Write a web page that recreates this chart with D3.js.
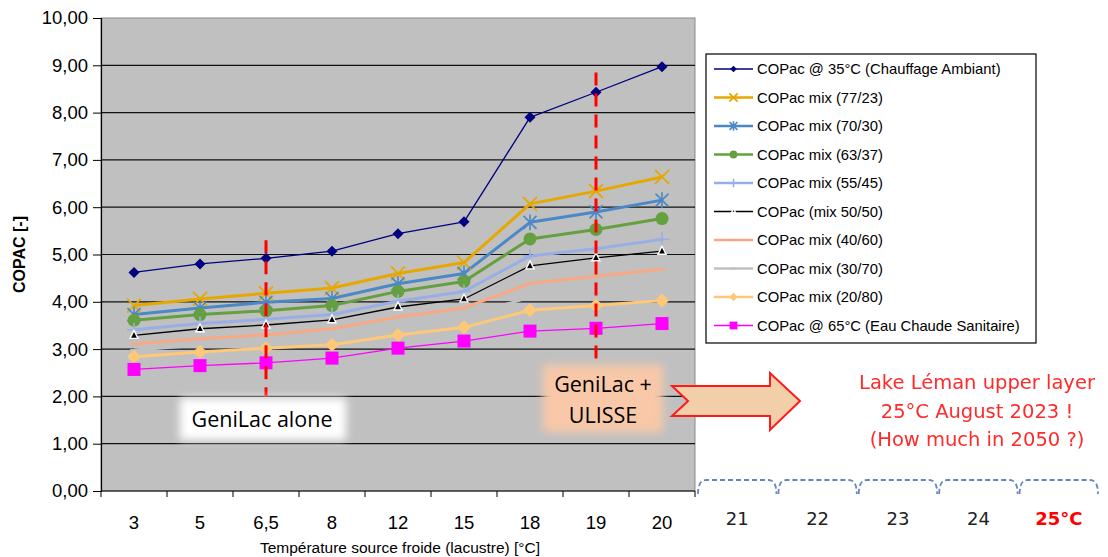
<!DOCTYPE html>
<html>
<head>
<meta charset="utf-8">
<script src="https://cdn.jsdelivr.net/npm/d3@7"></script>
<style>
  html, body { margin: 0; padding: 0; background: #ffffff; }
  svg { display: block; }
</style>
</head>
<body>
<svg id="chart" width="1108" height="557"></svg>
<script>
// Lake-water source temperature categories [°C]
const temperatures = ["3", "5", "6,5", "8", "12", "15", "18", "19", "20"];
const yTicks = [0, 1, 2, 3, 4, 5, 6, 7, 8, 9, 10];

// COPAC per mix of space heating / domestic hot water
const cop35 = [4.62, 4.80, 4.92, 5.07, 5.44, 5.69, 7.90, 8.43, 8.97];
const mix77_23 = [3.92, 4.06, 4.18, 4.29, 4.60, 4.83, 6.07, 6.34, 6.64];
const mix70_30 = [3.73, 3.87, 3.99, 4.07, 4.38, 4.60, 5.68, 5.90, 6.15];
const mix63_37 = [3.61, 3.73, 3.81, 3.92, 4.22, 4.43, 5.33, 5.53, 5.76];
const mix55_45 = [3.41, 3.54, 3.63, 3.73, 4.01, 4.22, 4.97, 5.12, 5.32];
const mix50_50 = [3.29, 3.43, 3.51, 3.62, 3.89, 4.06, 4.76, 4.93, 5.07];
const mix40_60 = [3.11, 3.22, 3.30, 3.43, 3.68, 3.87, 4.39, 4.54, 4.69];
const mix30_70 = [2.98, 3.08, 3.16, 3.26, 3.50, 3.68, 4.10, 4.22, 4.36];
const mix20_80 = [2.84, 2.94, 3.02, 3.09, 3.30, 3.46, 3.82, 3.92, 4.03];
const cop65 = [2.57, 2.65, 2.71, 2.81, 3.02, 3.17, 3.38, 3.44, 3.54];

const seriesNames = [
  "COPac @ 35°C (Chauffage Ambiant)",
  "COPac mix (77/23)",
  "COPac mix (70/30)",
  "COPac mix (63/37)",
  "COPac mix (55/45)",
  "COPac (mix 50/50)",
  "COPac mix (40/60)",
  "COPac mix (30/70)",
  "COPac mix (20/80)",
  "COPac @ 65°C (Eau Chaude Sanitaire)"
];
const seriesValues = [cop35, mix77_23, mix70_30, mix63_37, mix55_45, mix50_50, mix40_60, mix30_70, mix20_80, cop65];

// Future lake temperatures beyond the measured range
const futureTemps = ["21", "22", "23", "24", "25°C"];

// Visual style per series
const styles = [
  { color: "#000080", width: 1.3, marker: "diamond", size: 5.5 },
  { color: "#E6A800", width: 3, marker: "x", size: 7 },
  { color: "#4A88C6", width: 3, marker: "star", size: 6.5 },
  { color: "#64A040", width: 3, marker: "circle", size: 6.5 },
  { color: "#98AEE6", width: 3, marker: "plus", size: 7 },
  { color: "#000000", width: 1.3, marker: "triangle", size: 4 },
  { color: "#F8A884", width: 3, marker: "dash", size: 4 },
  { color: "#C0C0C0", width: 3, marker: "dash", size: 4 },
  { color: "#FFC878", width: 3, marker: "diamond", size: 7 },
  { color: "#FF00FF", width: 1.3, marker: "square", size: 6.5 }
];

const svg = d3.select("#chart");
const plot = { left: 101, right: 695, top: 18, bottom: 491 };

const x = d3.scaleBand().domain(temperatures).range([plot.left, plot.right]).paddingInner(0).paddingOuter(0);
const y = d3.scaleLinear().domain([0, 10]).range([plot.bottom, plot.top]);
const cx = d => x(d) + x.bandwidth() / 2;

const defs = svg.append("defs");
defs.append("filter").attr("id", "soft").attr("x", "-20%").attr("y", "-30%").attr("width", "140%").attr("height", "160%")
  .append("feGaussianBlur").attr("stdDeviation", 4);
defs.append("filter").attr("id", "textsoft")
  .append("feGaussianBlur").attr("stdDeviation", 0.35);

// Plot background
svg.append("rect")
  .attr("x", plot.left).attr("y", plot.top)
  .attr("width", plot.right - plot.left).attr("height", plot.bottom - plot.top)
  .attr("fill", "#C0C0C0").attr("stroke", "#8a8a8a").attr("stroke-width", 1);

// Horizontal gridlines
svg.append("g").selectAll("line").data(yTicks.filter(t => t > 0 && t < 10)).join("line")
  .attr("x1", plot.left).attr("x2", plot.right)
  .attr("y1", d => y(d)).attr("y2", d => y(d))
  .attr("stroke", "#111").attr("stroke-width", 1.2);

// Y axis
const yAxis = d3.axisLeft(y).tickValues(yTicks).tickSize(8).tickPadding(5)
  .tickFormat(d => d3.format(".2f")(d).replace(".", ","));
const gy = svg.append("g").attr("transform", `translate(${plot.left},0)`).call(yAxis);
gy.select(".domain").attr("stroke", "#000").attr("stroke-width", 1.2);
gy.selectAll(".tick line").attr("stroke", "#000");
gy.selectAll(".tick text").attr("font-family", "Liberation Sans, Arial, sans-serif").attr("font-size", 18.5).attr("fill", "#000");

// X axis with ticks on category boundaries
const gx = svg.append("g").attr("transform", `translate(0,${plot.bottom})`);
gx.append("line").attr("x1", plot.left).attr("x2", plot.right).attr("stroke", "#000").attr("stroke-width", 1.2);
const boundaries = temperatures.map(t => x(t)).concat([plot.right]);
gx.selectAll("line.tk").data(boundaries).join("line").attr("class", "tk")
  .attr("x1", d => d).attr("x2", d => d).attr("y1", 0).attr("y2", 6).attr("stroke", "#000");
gx.selectAll("text").data(temperatures).join("text")
  .attr("x", d => cx(d)).attr("y", 38)
  .attr("text-anchor", "middle")
  .attr("font-family", "Liberation Sans, Arial, sans-serif").attr("font-size", 18.5).attr("fill", "#000")
  .text(d => d);

// Axis titles
svg.append("text")
  .attr("transform", `translate(25,${(plot.top + plot.bottom) / 2}) rotate(-90)`)
  .attr("text-anchor", "middle")
  .attr("font-family", "Liberation Sans, Arial, sans-serif").attr("font-size", 16).attr("font-weight", "bold")
  .attr("fill", "#000").text("COPAC  [-]");
svg.append("text")
  .attr("x", 400).attr("y", 553)
  .attr("text-anchor", "middle")
  .attr("font-family", "Liberation Sans, Arial, sans-serif").attr("font-size", 15.5)
  .attr("fill", "#000").text("Température source froide (lacustre) [°C]");

// Marker drawing helper
function drawMarker(g, st, px, py, scale) {
  const s = st.size * scale;
  const c = st.color;
  switch (st.marker) {
    case "diamond":
      g.append("path").attr("d", `M${px},${py - s}L${px + s},${py}L${px},${py + s}L${px - s},${py}Z`).attr("fill", c);
      break;
    case "x":
      g.append("path").attr("d", `M${px - s},${py - s}L${px + s},${py + s}M${px - s},${py + s}L${px + s},${py - s}`)
        .attr("stroke", c).attr("stroke-width", 1.8).attr("fill", "none");
      break;
    case "star":
      g.append("path").attr("d", `M${px - s},${py - s}L${px + s},${py + s}M${px - s},${py + s}L${px + s},${py - s}M${px},${py - s * 1.2}L${px},${py + s * 1.2}`)
        .attr("stroke", c).attr("stroke-width", 1.6).attr("fill", "none");
      break;
    case "circle":
      g.append("circle").attr("cx", px).attr("cy", py).attr("r", s).attr("fill", c);
      break;
    case "plus":
      g.append("path").attr("d", `M${px - s},${py}L${px + s},${py}M${px},${py - s}L${px},${py + s}`)
        .attr("stroke", c).attr("stroke-width", 1.6).attr("fill", "none");
      break;
    case "triangle":
      g.append("path").attr("d", `M${px},${py - s - 1}L${px + s},${py + s - 1}L${px - s},${py + s - 1}Z`)
        .attr("fill", c).attr("stroke", "#fff").attr("stroke-width", 1.4);
      break;
    case "dash":
      g.append("path").attr("d", `M${px - s},${py}L${px + s},${py}`).attr("stroke", c).attr("stroke-width", 2);
      break;
    case "square":
      g.append("rect").attr("x", px - s).attr("y", py - s).attr("width", 2 * s).attr("height", 2 * s).attr("fill", c);
      break;
  }
}

// Series lines and markers
const line = d3.line().x((d, i) => cx(temperatures[i])).y(d => y(d));
const seriesG = svg.append("g");
seriesValues.forEach((vals, k) => {
  const st = styles[k];
  seriesG.append("path").datum(vals).attr("d", line)
    .attr("fill", "none").attr("stroke", st.color).attr("stroke-width", st.width).attr("stroke-linejoin", "round");
});
seriesValues.forEach((vals, k) => {
  const st = styles[k];
  const mg = seriesG.append("g");
  vals.forEach((v, i) => drawMarker(mg, st, cx(temperatures[i]), y(v), 1));
});

// Red dashed markers for the two operating scenarios (value range on the COPAC axis)
const scenarioLines = [
  { t: "6,5", top: 5.3, bottom: 2.0 },
  { t: "19", top: 8.85, bottom: 2.8 }
];
svg.append("g").selectAll("line").data(scenarioLines).join("line")
  .attr("x1", d => cx(d.t)).attr("x2", d => cx(d.t))
  .attr("y1", d => y(d.top)).attr("y2", d => y(d.bottom))
  .attr("stroke", "#FF0000").attr("stroke-width", 3).attr("stroke-dasharray", "13,8");

// Scenario labels
const lbl = svg.append("g").attr("font-family", "Open Sans, Lato, sans-serif").attr("font-size", 21.5).attr("fill", "#000")
  .attr("text-anchor", "middle");
lbl.append("rect").attr("x", 180).attr("y", 398).attr("width", 166).attr("height", 42)
  .attr("fill", "#ffffff").attr("filter", "url(#soft)");
lbl.append("text").attr("x", 262).attr("y", 427).text("GeniLac alone");

lbl.append("rect").attr("x", 543).attr("y", 365).attr("width", 120).attr("height", 67)
  .attr("fill", "#F8C8A8").attr("filter", "url(#soft)");
lbl.append("text").attr("x", 603).attr("y", 392).text("GeniLac +");
lbl.append("text").attr("x", 603).attr("y", 423).text("ULISSE");

// Notched arrow towards future temperatures
svg.append("path")
  .attr("d", "M672,386 L770,386 L770,373 L800,401 L770,430 L770,416 L672,416 L688,401 Z")
  .attr("fill", "#F2CFA8").attr("stroke", "#FF1A1A").attr("stroke-width", 2).attr("stroke-linejoin", "miter");

// Red commentary text
const note = svg.append("g").attr("font-family", "DejaVu Sans, sans-serif").attr("font-size", 19.5)
  .attr("fill", "#FF2A2A").attr("text-anchor", "middle").attr("filter", "url(#textsoft)");
["Lake Léman upper layer", "25°C August 2023 !", "(How much in 2050 ?)"].forEach((t, i) => {
  note.append("text").attr("x", 977).attr("y", 389 + i * 28.5).text(t);
});

// Future temperature scale with dashed braces
const futureX = d3.scaleBand().domain(futureTemps).range([697, 1099]);
const braces = svg.append("g").attr("fill", "none").attr("stroke", "#6A86BA").attr("stroke-width", 1.8)
  .attr("stroke-dasharray", "5,3");
futureTemps.forEach(t => {
  const x0 = futureX(t) + 1, x1 = futureX(t) + futureX.bandwidth() - 1;
  braces.append("path").attr("d",
    `M${x0},${494} Q${x0},${480} ${x0 + 8},${480} L${x1 - 8},${480} Q${x1},${480} ${x1},${494}`);
});
svg.append("g").selectAll("text").data(futureTemps).join("text")
  .attr("x", d => futureX(d) + futureX.bandwidth() / 2).attr("y", 525)
  .attr("text-anchor", "middle")
  .attr("font-family", "DejaVu Sans, sans-serif").attr("font-size", 18)
  .attr("font-weight", (d, i) => i === futureTemps.length - 1 ? "bold" : "normal")
  .attr("fill", (d, i) => i === futureTemps.length - 1 ? "#FF0000" : "#222")
  .text(d => d);

// Legend
const legend = svg.append("g");
legend.append("rect").attr("x", 706).attr("y", 54).attr("width", 330).attr("height", 289)
  .attr("fill", "#fff").attr("stroke", "#000").attr("stroke-width", 1.2);
seriesNames.forEach((name, k) => {
  const st = styles[k];
  const ly = 69 + k * 28.5;
  legend.append("line").attr("x1", 714).attr("x2", 753).attr("y1", ly).attr("y2", ly)
    .attr("stroke", st.color).attr("stroke-width", Math.min(st.width, 2.5));
  drawMarker(legend, st, 733.5, ly, st.marker === "triangle" ? 0.5 : 0.6);
  legend.append("text").attr("x", 757).attr("y", ly + 5)
    .attr("font-family", "Liberation Sans, Arial, sans-serif").attr("font-size", 14.8).attr("fill", "#000")
    .text(name);
});
</script>
</body>
</html>
